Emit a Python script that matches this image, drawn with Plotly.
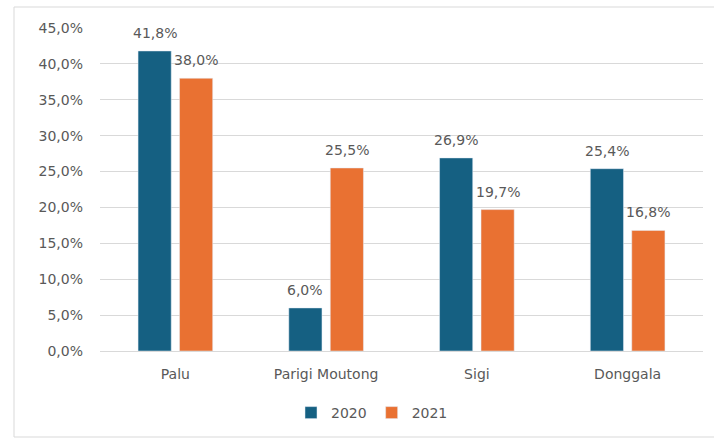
import plotly.graph_objects as go

categories = ["Palu", "Parigi Moutong", "Sigi", "Donggala"]
v2020 = [41.8, 6.0, 26.9, 25.4]
v2021 = [38.0, 25.5, 19.7, 16.8]
tick_vals = [0, 5, 10, 15, 20, 25, 30, 35, 40, 45]
tick_text = ["0,0%", "5,0%", "10,0%", "15,0%", "20,0%", "25,0%", "30,0%", "35,0%", "40,0%", "45,0%"]

def fmt(v):
    return f"{v:.1f}".replace(".", ",") + "%"

W, H = 714, 441
L, R, T, B = 100, 11, 28, 90
pw, ph = W - L - R, H - T - B
FONT = "DejaVu Sans"
GREY = "#595959"

fig = go.Figure()
fig.add_bar(name="2020", x=categories, y=v2020, marker_color="#156082")
fig.add_bar(name="2021", x=categories, y=v2021, marker_color="#E97132")

slot = pw / len(categories) * (1 - 0.45) / 2
for series, sign in ((v2020, -1), (v2021, 1)):
    for c, v in zip(categories, series):
        fig.add_annotation(x=c, y=v, text=fmt(v), showarrow=False,
                           xshift=sign * slot / 2, yshift=8, yanchor="bottom",
                           font=dict(family=FONT, size=14, color=GREY))

def px2x(px):
    return (px - L) / pw

def py2y(py):
    return (H - B - py) / ph

fig.add_shape(type="rect", xref="paper", yref="paper",
              x0=px2x(14), x1=px2x(730), y0=py2y(7), y1=py2y(437),
              line=dict(color="#D9D9D9", width=1), layer="below")

fig.update_layout(
    width=W, height=H,
    margin=dict(l=L, r=R, t=T, b=B),
    paper_bgcolor="white", plot_bgcolor="white",
    barmode="group", bargap=0.45, bargroupgap=0.2,
    font=dict(family=FONT, size=14, color=GREY),
    showlegend=True,
    legend=dict(orientation="h", x=px2x(372), xanchor="center",
                y=py2y(413), yanchor="middle",
                font=dict(family=FONT, size=14, color=GREY),
                itemwidth=30, traceorder="normal"),
)
fig.update_yaxes(range=[0, 45], tickvals=tick_vals, ticktext=tick_text,
                 showgrid=True, gridcolor="#D9D9D9", gridwidth=1,
                 zeroline=False, showline=False, ticks="",
                 ticklabelstandoff=16,
                 tickfont=dict(family=FONT, size=14, color=GREY))
fig.update_xaxes(showline=True, linecolor="#D9D9D9", linewidth=1,
                 ticks="", ticklabelstandoff=10,
                 tickfont=dict(family=FONT, size=14, color=GREY))

fig.write_html("out.html")
